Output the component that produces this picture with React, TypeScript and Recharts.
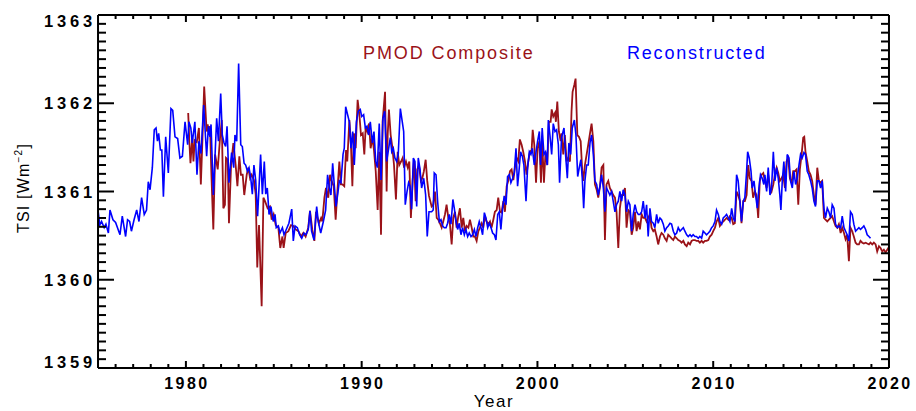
import { LineChart, Line, XAxis, YAxis } from 'recharts';

// [decimal year, TSI in W/m^2]
const reconstructed: [number, number][] = [
  [1975.0, 1360.79], [1975.1, 1360.62], [1975.2, 1360.66], [1975.35, 1360.59], [1975.45, 1360.63], [1975.59, 1360.53],
  [1975.68, 1360.79], [1975.85, 1360.68], [1976.0, 1360.65], [1976.25, 1360.51], [1976.38, 1360.72], [1976.57, 1360.49],
  [1976.68, 1360.68], [1976.8, 1360.66], [1976.9, 1360.55], [1977.05, 1360.68], [1977.2, 1360.79], [1977.33, 1360.66],
  [1977.48, 1360.93], [1977.63, 1360.74], [1977.76, 1360.79], [1977.86, 1361.11], [1977.96, 1361.02], [1978.09, 1361.27],
  [1978.2, 1361.7], [1978.3, 1361.72], [1978.38, 1361.57], [1978.45, 1361.66], [1978.55, 1361.47], [1978.63, 1361.47],
  [1978.72, 1360.94], [1978.85, 1361.62], [1979.0, 1361.21], [1979.15, 1361.94], [1979.25, 1361.92], [1979.38, 1361.62],
  [1979.53, 1361.6], [1979.66, 1361.38], [1979.8, 1361.4], [1979.95, 1361.79], [1980.1, 1361.53], [1980.17, 1361.79],
  [1980.28, 1361.72], [1980.36, 1361.55], [1980.51, 1361.79], [1980.63, 1361.19], [1980.74, 1361.57], [1980.86, 1361.43],
  [1981.01, 1361.98], [1981.18, 1361.4], [1981.28, 1361.74], [1981.37, 1361.62], [1981.43, 1361.76], [1981.56, 1360.96],
  [1981.75, 1361.83], [1981.85, 1361.57], [1981.98, 1362.11], [1982.07, 1361.64], [1982.17, 1361.55], [1982.26, 1361.51],
  [1982.34, 1361.74], [1982.45, 1361.1], [1982.6, 1361.44], [1982.72, 1361.27], [1982.79, 1361.64], [1982.89, 1361.57],
  [1983.0, 1362.45], [1983.12, 1361.53], [1983.21, 1361.51], [1983.31, 1361.32], [1983.4, 1361.3], [1983.5, 1361.23],
  [1983.59, 1361.27], [1983.68, 1361.17], [1983.78, 1360.97], [1983.87, 1361.3], [1983.97, 1361.13], [1984.08, 1360.72],
  [1984.25, 1361.42], [1984.35, 1360.97], [1984.46, 1361.34], [1984.54, 1360.97], [1984.63, 1361.04], [1984.73, 1360.74],
  [1984.84, 1360.83], [1984.97, 1360.66], [1985.07, 1360.74], [1985.14, 1360.59], [1985.26, 1360.61], [1985.35, 1360.53],
  [1985.49, 1360.59], [1985.58, 1360.51], [1985.71, 1360.57], [1985.86, 1360.64], [1986.02, 1360.8], [1986.11, 1360.44],
  [1986.21, 1360.61], [1986.34, 1360.59], [1986.47, 1360.51], [1986.59, 1360.47], [1986.72, 1360.53], [1986.83, 1360.51],
  [1986.96, 1360.57], [1987.06, 1360.78], [1987.15, 1360.55], [1987.29, 1360.45], [1987.44, 1360.83], [1987.53, 1360.66],
  [1987.67, 1360.53], [1987.82, 1360.66], [1987.95, 1360.79], [1988.06, 1361.19], [1988.16, 1361.04], [1988.25, 1360.96],
  [1988.35, 1361.32], [1988.44, 1361.08], [1988.54, 1360.83], [1988.63, 1360.96], [1988.73, 1361.12], [1988.82, 1361.1],
  [1988.94, 1361.42], [1989.01, 1361.49], [1989.09, 1361.96], [1989.2, 1361.87], [1989.3, 1361.79], [1989.39, 1361.49],
  [1989.49, 1361.68], [1989.58, 1361.3], [1989.7, 1361.79], [1989.81, 1361.91], [1989.92, 1361.93], [1990.0, 1361.85],
  [1990.11, 1361.87], [1990.21, 1361.72], [1990.3, 1361.74], [1990.4, 1361.64], [1990.49, 1361.79], [1990.61, 1361.55],
  [1990.7, 1361.68], [1990.8, 1361.34], [1990.89, 1361.27], [1991.0, 1361.77], [1991.1, 1361.13], [1991.21, 1361.83],
  [1991.31, 1361.91], [1991.42, 1361.34], [1991.52, 1361.47], [1991.63, 1361.61], [1991.71, 1361.45], [1991.8, 1361.49],
  [1991.89, 1361.38], [1991.99, 1361.34], [1992.08, 1361.42], [1992.2, 1361.94], [1992.31, 1361.79], [1992.39, 1361.68],
  [1992.48, 1360.85], [1992.58, 1361.0], [1992.67, 1361.1], [1992.75, 1361.06], [1992.84, 1360.8], [1992.94, 1361.38],
  [1993.03, 1361.34], [1993.13, 1360.83], [1993.22, 1361.38], [1993.32, 1361.25], [1993.41, 1361.04], [1993.53, 1361.15],
  [1993.64, 1360.96], [1993.73, 1360.49], [1993.83, 1360.77], [1993.98, 1360.77], [1994.07, 1360.79], [1994.13, 1361.21],
  [1994.23, 1361.19], [1994.32, 1360.89], [1994.42, 1360.66], [1994.51, 1360.68], [1994.61, 1360.61], [1994.7, 1360.59],
  [1994.8, 1360.59], [1994.89, 1360.64], [1994.98, 1360.74], [1995.08, 1360.63], [1995.19, 1360.91], [1995.27, 1360.81],
  [1995.37, 1360.66], [1995.46, 1360.57], [1995.55, 1360.64], [1995.65, 1360.51], [1995.74, 1360.59], [1995.84, 1360.51],
  [1995.93, 1360.57], [1996.03, 1360.49], [1996.12, 1360.53], [1996.22, 1360.49], [1996.31, 1360.51], [1996.41, 1360.57],
  [1996.5, 1360.49], [1996.6, 1360.59], [1996.69, 1360.66], [1996.79, 1360.59], [1996.88, 1360.51], [1996.98, 1360.76],
  [1997.07, 1360.7], [1997.17, 1360.59], [1997.26, 1360.64], [1997.36, 1360.59], [1997.45, 1360.53], [1997.55, 1360.51],
  [1997.64, 1360.45], [1997.74, 1360.74], [1997.83, 1360.77], [1997.92, 1360.57], [1998.02, 1360.81], [1998.11, 1360.95],
  [1998.21, 1360.85], [1998.3, 1361.17], [1998.4, 1361.19], [1998.49, 1361.1], [1998.59, 1361.15], [1998.68, 1361.21],
  [1998.78, 1361.49], [1998.87, 1361.06], [1998.95, 1361.23], [1999.04, 1361.45], [1999.14, 1361.4], [1999.23, 1361.3],
  [1999.35, 1360.89], [1999.44, 1361.27], [1999.54, 1361.45], [1999.63, 1361.42], [1999.71, 1361.49], [1999.82, 1361.3],
  [1999.92, 1361.45], [2000.01, 1361.57], [2000.11, 1361.68], [2000.18, 1361.3], [2000.27, 1361.72], [2000.37, 1361.42],
  [2000.46, 1361.45], [2000.56, 1361.3], [2000.62, 1361.81], [2000.71, 1361.64], [2000.81, 1361.42], [2000.9, 1361.77],
  [2001.0, 1361.68], [2001.09, 1361.7], [2001.19, 1361.53], [2001.26, 1361.1], [2001.37, 1361.61], [2001.51, 1361.72],
  [2001.6, 1361.42], [2001.7, 1361.15], [2001.79, 1361.55], [2001.89, 1361.42], [2001.98, 1361.72], [2002.1, 1361.81],
  [2002.19, 1361.64], [2002.29, 1361.17], [2002.38, 1361.27], [2002.47, 1361.36], [2002.55, 1361.15], [2002.63, 1360.81],
  [2002.7, 1361.12], [2002.8, 1361.3], [2002.89, 1361.3], [2002.99, 1361.55], [2003.08, 1361.64], [2003.18, 1361.42],
  [2003.27, 1361.12], [2003.37, 1361.08], [2003.46, 1360.96], [2003.56, 1361.06], [2003.65, 1361.19], [2003.75, 1361.04],
  [2003.84, 1360.77], [2003.93, 1361.04], [2004.03, 1361.0], [2004.12, 1360.96], [2004.22, 1361.0], [2004.31, 1360.89],
  [2004.41, 1360.77], [2004.5, 1360.85], [2004.6, 1360.89], [2004.69, 1361.0], [2004.79, 1360.89], [2004.88, 1361.02],
  [2004.98, 1360.96], [2005.07, 1360.77], [2005.17, 1360.89], [2005.26, 1360.85], [2005.36, 1360.55], [2005.45, 1360.74],
  [2005.55, 1360.85], [2005.64, 1360.77], [2005.74, 1360.74], [2005.83, 1360.74], [2005.93, 1360.77], [2006.02, 1360.89],
  [2006.12, 1360.7], [2006.21, 1360.85], [2006.3, 1360.49], [2006.4, 1360.81], [2006.49, 1360.66], [2006.59, 1360.64],
  [2006.68, 1360.59], [2006.78, 1360.74], [2006.87, 1360.64], [2006.97, 1360.7], [2007.06, 1360.68], [2007.16, 1360.63],
  [2007.25, 1360.55], [2007.35, 1360.59], [2007.44, 1360.61], [2007.54, 1360.64], [2007.63, 1360.63], [2007.73, 1360.55],
  [2007.82, 1360.51], [2007.92, 1360.53], [2008.01, 1360.59], [2008.11, 1360.55], [2008.2, 1360.57], [2008.3, 1360.59],
  [2008.39, 1360.55], [2008.49, 1360.51], [2008.58, 1360.49], [2008.68, 1360.51], [2008.77, 1360.49], [2008.86, 1360.51],
  [2008.96, 1360.49], [2009.05, 1360.49], [2009.15, 1360.47], [2009.24, 1360.49], [2009.34, 1360.47], [2009.43, 1360.55],
  [2009.53, 1360.53], [2009.62, 1360.51], [2009.72, 1360.53], [2009.81, 1360.55], [2009.91, 1360.59], [2010.0, 1360.61],
  [2010.1, 1360.66], [2010.19, 1360.79], [2010.29, 1360.74], [2010.38, 1360.66], [2010.48, 1360.63], [2010.57, 1360.7],
  [2010.67, 1360.72], [2010.76, 1360.74], [2010.86, 1360.7], [2010.95, 1360.66], [2011.05, 1360.81], [2011.14, 1360.7],
  [2011.23, 1360.66], [2011.33, 1361.19], [2011.42, 1361.12], [2011.52, 1360.89], [2011.61, 1360.66], [2011.71, 1360.89],
  [2011.8, 1360.93], [2011.9, 1361.23], [2011.96, 1361.45], [2012.05, 1361.38], [2012.15, 1361.23], [2012.22, 1361.04],
  [2012.32, 1361.12], [2012.41, 1360.96], [2012.51, 1360.81], [2012.6, 1361.04], [2012.69, 1361.19], [2012.79, 1361.15],
  [2012.88, 1361.08], [2012.94, 1361.19], [2013.04, 1361.0], [2013.13, 1361.27], [2013.23, 1360.96], [2013.32, 1361.04],
  [2013.42, 1361.45], [2013.51, 1361.12], [2013.61, 1361.27], [2013.7, 1361.15], [2013.79, 1360.96], [2013.85, 1360.79],
  [2013.93, 1361.12], [2014.02, 1361.34], [2014.12, 1361.0], [2014.21, 1361.42], [2014.31, 1361.38], [2014.4, 1361.12],
  [2014.5, 1361.04], [2014.59, 1361.23], [2014.69, 1361.08], [2014.78, 1361.15], [2014.88, 1361.3], [2014.97, 1361.42],
  [2015.06, 1361.38], [2015.16, 1361.44], [2015.25, 1361.42], [2015.35, 1361.23], [2015.44, 1361.19], [2015.54, 1361.12],
  [2015.63, 1361.04], [2015.73, 1360.89], [2015.82, 1360.83], [2015.92, 1361.12], [2016.01, 1361.12], [2016.11, 1361.04],
  [2016.2, 1361.12], [2016.3, 1360.81], [2016.39, 1360.7], [2016.49, 1360.81], [2016.58, 1360.77], [2016.68, 1360.7],
  [2016.77, 1360.85], [2016.87, 1360.81], [2016.96, 1360.63], [2017.06, 1360.59], [2017.15, 1360.61], [2017.25, 1360.59],
  [2017.34, 1360.72], [2017.44, 1360.59], [2017.53, 1360.55], [2017.62, 1360.51], [2017.72, 1360.44], [2017.81, 1360.77],
  [2017.91, 1360.74], [2018.0, 1360.63], [2018.1, 1360.55], [2018.19, 1360.57], [2018.29, 1360.59], [2018.38, 1360.57],
  [2018.48, 1360.59], [2018.57, 1360.61], [2018.67, 1360.57], [2018.76, 1360.51], [2018.86, 1360.49], [2018.95, 1360.47],
];

const pmodComposite: [number, number][] = [
  [1980.13, 1361.89], [1980.2, 1361.55], [1980.26, 1361.32], [1980.36, 1361.61], [1980.43, 1361.34], [1980.5, 1361.58],
  [1980.62, 1361.56], [1980.74, 1361.72], [1980.85, 1361.08], [1980.93, 1361.53], [1981.04, 1362.19], [1981.18, 1361.68],
  [1981.24, 1361.76], [1981.31, 1361.64], [1981.37, 1361.74], [1981.45, 1361.2], [1981.56, 1360.57], [1981.66, 1361.42],
  [1981.81, 1361.25], [1981.94, 1361.6], [1982.04, 1361.81], [1982.13, 1360.81], [1982.22, 1360.85], [1982.28, 1361.38],
  [1982.38, 1361.36], [1982.45, 1360.64], [1982.57, 1361.3], [1982.7, 1361.55], [1982.83, 1361.3], [1982.93, 1361.06],
  [1983.04, 1361.4], [1983.13, 1361.19], [1983.23, 1361.19], [1983.32, 1360.96], [1983.46, 1361.19], [1983.55, 1361.27],
  [1983.65, 1361.15], [1983.74, 1361.19], [1983.87, 1361.13], [1983.97, 1360.97], [1984.06, 1360.14], [1984.16, 1360.62],
  [1984.31, 1359.7], [1984.41, 1360.93], [1984.5, 1360.89], [1984.65, 1360.81], [1984.78, 1360.83], [1984.88, 1360.68],
  [1984.99, 1360.74], [1985.11, 1360.62], [1985.26, 1360.59], [1985.37, 1360.36], [1985.49, 1360.49], [1985.56, 1360.36],
  [1985.68, 1360.53], [1985.83, 1360.55], [1985.98, 1360.62], [1986.11, 1360.61], [1986.24, 1360.57], [1986.4, 1360.55],
  [1986.55, 1360.49], [1986.68, 1360.53], [1986.81, 1360.49], [1986.96, 1360.59], [1987.06, 1360.78], [1987.19, 1360.57],
  [1987.31, 1360.44], [1987.4, 1360.77], [1987.57, 1360.64], [1987.69, 1360.7], [1987.76, 1360.66], [1987.88, 1360.93],
  [1987.97, 1361.04], [1988.1, 1360.93], [1988.2, 1361.19], [1988.29, 1361.12], [1988.41, 1361.06], [1988.52, 1360.68],
  [1988.63, 1361.04], [1988.73, 1361.34], [1988.82, 1361.08], [1988.9, 1361.08], [1989.01, 1361.06], [1989.11, 1361.47],
  [1989.18, 1361.34], [1989.3, 1361.81], [1989.39, 1361.53], [1989.47, 1361.06], [1989.56, 1361.66], [1989.66, 1361.49],
  [1989.77, 1362.04], [1989.87, 1361.87], [1989.96, 1361.64], [1990.06, 1361.66], [1990.15, 1361.42], [1990.23, 1361.74],
  [1990.32, 1361.68], [1990.42, 1361.77], [1990.51, 1361.49], [1990.61, 1361.61], [1990.7, 1361.47], [1990.8, 1361.23],
  [1990.91, 1360.79], [1991.0, 1361.45], [1991.1, 1360.51], [1991.19, 1361.79], [1991.33, 1362.13], [1991.42, 1361.0],
  [1991.48, 1361.64], [1991.55, 1361.93], [1991.65, 1361.64], [1991.74, 1361.51], [1991.84, 1361.3], [1991.95, 1360.91],
  [1992.05, 1361.45], [1992.14, 1361.3], [1992.24, 1361.34], [1992.33, 1361.38], [1992.41, 1361.27], [1992.52, 1361.34],
  [1992.62, 1361.27], [1992.71, 1361.34], [1992.8, 1360.7], [1992.9, 1361.12], [1992.98, 1361.36], [1993.07, 1360.89],
  [1993.16, 1361.25], [1993.26, 1361.3], [1993.37, 1361.12], [1993.45, 1361.15], [1993.54, 1361.23], [1993.64, 1361.36],
  [1993.73, 1361.12], [1993.83, 1360.95], [1993.98, 1360.83], [1994.07, 1360.85], [1994.17, 1361.0], [1994.27, 1360.7],
  [1994.36, 1360.68], [1994.45, 1360.64], [1994.55, 1360.59], [1994.64, 1360.66], [1994.74, 1360.74], [1994.83, 1360.85],
  [1994.93, 1360.7], [1995.02, 1360.63], [1995.12, 1360.4], [1995.21, 1360.7], [1995.31, 1360.77], [1995.4, 1360.59],
  [1995.5, 1360.72], [1995.59, 1360.81], [1995.69, 1360.59], [1995.78, 1360.7], [1995.88, 1360.55], [1995.97, 1360.61],
  [1996.07, 1360.59], [1996.16, 1360.68], [1996.26, 1360.59], [1996.35, 1360.49], [1996.44, 1360.49], [1996.54, 1360.44],
  [1996.64, 1360.55], [1996.73, 1360.59], [1996.83, 1360.64], [1996.92, 1360.59], [1997.01, 1360.72], [1997.11, 1360.66],
  [1997.2, 1360.63], [1997.3, 1360.66], [1997.39, 1360.59], [1997.49, 1360.68], [1997.58, 1360.77], [1997.68, 1360.79],
  [1997.77, 1360.93], [1997.87, 1360.77], [1997.96, 1360.76], [1998.06, 1360.89], [1998.15, 1360.77], [1998.25, 1361.06],
  [1998.34, 1361.12], [1998.44, 1361.23], [1998.53, 1361.25], [1998.63, 1361.13], [1998.72, 1361.27], [1998.81, 1361.38],
  [1998.91, 1361.34], [1999.0, 1361.59], [1999.1, 1361.53], [1999.19, 1361.45], [1999.29, 1361.34], [1999.38, 1361.19],
  [1999.48, 1361.34], [1999.57, 1361.45], [1999.67, 1361.47], [1999.73, 1361.7], [1999.82, 1361.53], [1999.92, 1361.1],
  [2000.01, 1361.49], [2000.11, 1361.57], [2000.2, 1361.1], [2000.27, 1361.57], [2000.37, 1361.1], [2000.46, 1361.45],
  [2000.56, 1361.3], [2000.65, 1361.79], [2000.75, 1361.79], [2000.81, 1361.93], [2000.9, 1361.85], [2001.0, 1361.89],
  [2001.05, 1361.79], [2001.13, 1362.02], [2001.22, 1361.68], [2001.32, 1361.57], [2001.37, 1361.66], [2001.47, 1361.42],
  [2001.56, 1361.64], [2001.66, 1361.34], [2001.75, 1361.38], [2001.85, 1361.34], [2001.94, 1361.91], [2002.0, 1362.13],
  [2002.1, 1362.21], [2002.17, 1362.28], [2002.27, 1361.64], [2002.36, 1361.62], [2002.46, 1361.57], [2002.55, 1361.23],
  [2002.61, 1361.12], [2002.7, 1361.3], [2002.8, 1361.42], [2002.89, 1361.53], [2002.99, 1361.66], [2003.08, 1361.77],
  [2003.18, 1361.57], [2003.27, 1361.08], [2003.37, 1361.02], [2003.46, 1360.93], [2003.56, 1361.06], [2003.65, 1361.27],
  [2003.75, 1361.3], [2003.84, 1360.45], [2003.93, 1361.08], [2004.03, 1361.12], [2004.12, 1361.04], [2004.22, 1361.0],
  [2004.31, 1360.96], [2004.41, 1360.93], [2004.5, 1360.77], [2004.6, 1360.36], [2004.69, 1360.81], [2004.79, 1360.96],
  [2004.88, 1360.96], [2004.98, 1361.04], [2005.07, 1360.59], [2005.17, 1360.79], [2005.26, 1360.77], [2005.36, 1360.51],
  [2005.45, 1360.59], [2005.55, 1360.77], [2005.64, 1360.55], [2005.74, 1360.66], [2005.83, 1360.57], [2005.93, 1360.74],
  [2006.02, 1360.7], [2006.12, 1360.7], [2006.21, 1360.66], [2006.3, 1360.7], [2006.4, 1360.74], [2006.49, 1360.59],
  [2006.59, 1360.55], [2006.68, 1360.57], [2006.78, 1360.49], [2006.87, 1360.4], [2006.97, 1360.49], [2007.06, 1360.53],
  [2007.16, 1360.51], [2007.25, 1360.47], [2007.35, 1360.44], [2007.44, 1360.51], [2007.54, 1360.49], [2007.63, 1360.47],
  [2007.73, 1360.45], [2007.82, 1360.49], [2007.92, 1360.47], [2008.01, 1360.45], [2008.11, 1360.44], [2008.2, 1360.42],
  [2008.3, 1360.44], [2008.39, 1360.4], [2008.49, 1360.38], [2008.58, 1360.42], [2008.68, 1360.4], [2008.77, 1360.44],
  [2008.86, 1360.45], [2008.96, 1360.45], [2009.05, 1360.44], [2009.15, 1360.44], [2009.24, 1360.42], [2009.34, 1360.44],
  [2009.43, 1360.42], [2009.53, 1360.44], [2009.62, 1360.44], [2009.72, 1360.45], [2009.81, 1360.49], [2009.91, 1360.51],
  [2010.0, 1360.55], [2010.1, 1360.59], [2010.19, 1360.66], [2010.29, 1360.7], [2010.38, 1360.61], [2010.48, 1360.64],
  [2010.57, 1360.66], [2010.67, 1360.68], [2010.76, 1360.7], [2010.86, 1360.68], [2010.95, 1360.72], [2011.05, 1360.7],
  [2011.14, 1360.63], [2011.23, 1360.64], [2011.33, 1361.0], [2011.42, 1360.96], [2011.52, 1360.89], [2011.61, 1360.64],
  [2011.71, 1360.89], [2011.8, 1360.89], [2011.9, 1360.96], [2011.99, 1361.3], [2012.08, 1361.15], [2012.18, 1361.12],
  [2012.27, 1360.93], [2012.37, 1361.0], [2012.46, 1360.96], [2012.56, 1360.7], [2012.65, 1361.12], [2012.75, 1361.19],
  [2012.85, 1361.21], [2012.94, 1361.12], [2013.04, 1361.04], [2013.13, 1361.19], [2013.23, 1361.04], [2013.32, 1361.0],
  [2013.42, 1361.08], [2013.51, 1361.19], [2013.61, 1361.27], [2013.7, 1361.21], [2013.79, 1361.12], [2013.89, 1361.15],
  [2013.98, 1361.19], [2014.08, 1361.04], [2014.17, 1361.34], [2014.27, 1361.38], [2014.36, 1361.15], [2014.46, 1361.1],
  [2014.55, 1361.23], [2014.65, 1361.23], [2014.74, 1361.25], [2014.84, 1360.85], [2014.93, 1361.25], [2015.03, 1361.42],
  [2015.12, 1361.61], [2015.18, 1361.62], [2015.25, 1361.45], [2015.35, 1361.34], [2015.44, 1361.23], [2015.54, 1361.19],
  [2015.63, 1361.12], [2015.73, 1360.96], [2015.82, 1360.85], [2015.92, 1361.27], [2016.01, 1361.12], [2016.11, 1361.1],
  [2016.2, 1361.12], [2016.3, 1360.7], [2016.39, 1360.68], [2016.49, 1360.66], [2016.58, 1360.68], [2016.68, 1360.7],
  [2016.77, 1360.72], [2016.87, 1360.66], [2016.96, 1360.61], [2017.06, 1360.59], [2017.15, 1360.63], [2017.25, 1360.53],
  [2017.34, 1360.59], [2017.44, 1360.53], [2017.53, 1360.46], [2017.62, 1360.51], [2017.72, 1360.21], [2017.81, 1360.59],
  [2017.91, 1360.55], [2018.0, 1360.49], [2018.1, 1360.42], [2018.19, 1360.4], [2018.29, 1360.4], [2018.38, 1360.44],
  [2018.48, 1360.42], [2018.57, 1360.41], [2018.67, 1360.42], [2018.76, 1360.41], [2018.86, 1360.4], [2018.95, 1360.42],
  [2019.05, 1360.4], [2019.14, 1360.42], [2019.24, 1360.4], [2019.33, 1360.32], [2019.43, 1360.38], [2019.52, 1360.36],
  [2019.62, 1360.32], [2019.71, 1360.34], [2019.81, 1360.31], [2019.9, 1360.34], [2020.0, 1360.37],
];

const yearTicks = [1980, 1990, 2000, 2010, 2020];
const tsiTicks = [1359, 1360, 1361, 1362, 1363];
const yearMinor: number[] = [];
for (let yr = 1976; yr < 2020; yr++) if (yr % 10 !== 0) yearMinor.push(yr);
const tsiMinor: number[] = [];
for (let i = 1; i < 40; i++) if (i % 10 !== 0) tsiMinor.push(Math.round((1359 + i * 0.1) * 10) / 10);

const RED = '#9a1218';
const BLUE = '#0000ff';
const FONT = '"Liberation Sans", Arial, Helvetica, sans-serif';

const pmodData = pmodComposite.map(([year, tsi]) => ({ year, tsi }));
const reconData = reconstructed.map(([year, tsi]) => ({ year, tsi }));

const axisLine = { stroke: '#000', strokeWidth: 2 };
const THIN = 0.01; // axes take (almost) no room; the margin sets the frame

type Side = 'left' | 'right' | 'top' | 'bottom';

// inward tick mark (IDL style), optionally with a bold label outside the frame
function TickMark(props: any) {
  const { x, y, payload, side, len, label } = props as { x: number; y: number; payload: any; side: Side; len: number; label?: boolean };
  const v = payload.value;
  let x2 = x, y2 = y;
  if (side === 'left') x2 = x + len;
  if (side === 'right') x2 = x - len;
  if (side === 'bottom') y2 = y - len;
  if (side === 'top') y2 = y + len;
  let text = null;
  if (label && side === 'left') {
    const shift = v === 1363 ? 6 : v === 1359 ? -6 : 0;
    text = (
      <text x={x - 2} y={y + shift} textAnchor="end" dominantBaseline="central"
        fontFamily={FONT} fontWeight="bold" fontSize={16.5} letterSpacing={3.8} fill="#000">{v}</text>
    );
  }
  if (label && side === 'bottom') {
    text = (
      <text x={x + 1} y={y + 10} dy="0.71em" textAnchor="middle"
        fontFamily={FONT} fontWeight="bold" fontSize={16} letterSpacing={2.4} fill="#000">{v}</text>
    );
  }
  return (
    <g>
      <line x1={x} y1={y} x2={x2} y2={y2} stroke="#000" strokeWidth={2} />
      {text}
    </g>
  );
}

export default function App() {
  const dom: [number, number] = [1975, 2020];
  const ydom: [number, number] = [1359, 1363];
  const xAx = (id: string, side: 'top' | 'bottom', ticks: number[], len: number, main: boolean) => (
    <XAxis key={id} xAxisId={id} orientation={side} type="number" dataKey="year" domain={dom}
      allowDataOverflow ticks={ticks} interval={0} height={THIN} tickSize={0} tickMargin={0}
      axisLine={main ? axisLine : false} tickLine={false}
      tick={<TickMark side={side} len={len} label={main && side === 'bottom'} />} />
  );
  const yAx = (id: string, side: 'left' | 'right', ticks: number[], len: number, main: boolean) => (
    <YAxis key={id} yAxisId={id} orientation={side} type="number" domain={ydom}
      allowDataOverflow ticks={ticks} interval={0} width={THIN} tickSize={0} tickMargin={0}
      axisLine={main ? axisLine : false} tickLine={false}
      tick={<TickMark side={side} len={len} label={main && side === 'left'} />} />
  );
  return (
    <div style={{ position: 'absolute', left: 0, top: 0, width: 916, height: 411, background: '#fff' }}>
      <LineChart width={916} height={411} data={reconData}
        margin={{ top: 15, right: 27, bottom: 43, left: 98 }}>
        {xAx('x', 'bottom', yearTicks, 7, true)}
        {xAx('xb2', 'bottom', yearMinor, 4, false)}
        {xAx('xt1', 'top', yearTicks, 7, true)}
        {xAx('xt2', 'top', yearMinor, 4, false)}
        {yAx('y', 'left', tsiTicks, 16, true)}
        {yAx('yl2', 'left', tsiMinor, 8, false)}
        {yAx('yr1', 'right', tsiTicks, 16, true)}
        {yAx('yr2', 'right', tsiMinor, 8, false)}
        <Line xAxisId="x" yAxisId="y" data={pmodData} dataKey="tsi" type="linear"
          stroke={RED} strokeWidth={1.8} dot={false} isAnimationActive={false} />
        <Line xAxisId="x" yAxisId="y" data={reconData} dataKey="tsi" type="linear"
          stroke={BLUE} strokeWidth={1.6} dot={false} isAnimationActive={false} />
      </LineChart>
      <svg width={916} height={411} style={{ position: 'absolute', left: 0, top: 0, pointerEvents: 'none' }}>
        <text x={363} y={59} fontFamily={FONT} fontSize={18} letterSpacing={1.9} fill={RED}>PMOD Composite</text>
        <text x={627} y={59} fontFamily={FONT} fontSize={18} letterSpacing={1.8} fill={BLUE}>Reconstructed</text>
        <text x={494} y={407} textAnchor="middle" fontFamily={FONT} fontSize={17} letterSpacing={1.5} fill="#000">Year</text>
        <text transform="translate(29,188) rotate(-90)" textAnchor="middle" fontFamily={FONT} fontSize={16}
          letterSpacing={1.2} fill="#000">
          TSI [Wm<tspan dy={-7} fontSize={10}>−2</tspan><tspan dy={7}>]</tspan>
        </text>
      </svg>
    </div>
  );
}
